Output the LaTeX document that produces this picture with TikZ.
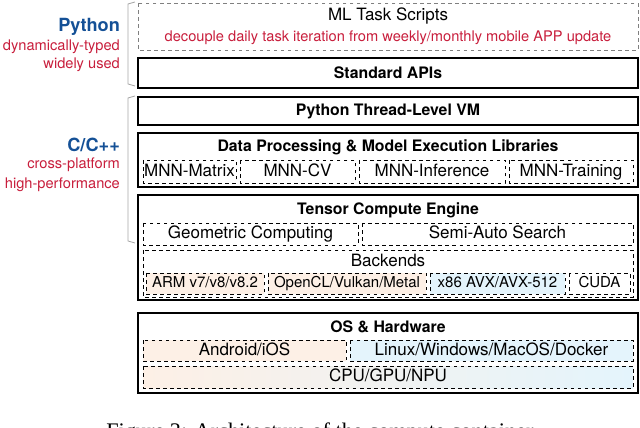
\documentclass[tikz,border=0pt]{standalone}
\usepackage{fontspec}
\setmainfont{TeX Gyre Heros}
\newfontfamily\capfont{Liberation Serif}
\begin{document}
\begin{tikzpicture}[x=0.03cm,y=-0.03cm,
 outer/.style={draw=black,line width=1.3pt},
 inner/.style={draw=black,dashed,line width=0.6pt},
 ttl/.style={font=\bfseries\fontsize{13.5}{15}\selectfont},
 txt/.style={font=\fontsize{14.5}{16}\selectfont,inner sep=0pt,text height=10.5pt,text depth=2.5pt},
 bk/.style={font=\fontsize{12.8}{14}\selectfont,inner sep=0pt,text height=9.3pt,text depth=2.2pt},
 side/.style={anchor=east,text=sred,font=\fontsize{12.5}{14}\selectfont},
 lang/.style={anchor=east,text=sblue,font=\bfseries\fontsize{15.5}{17}\selectfont}]
\definecolor{orng}{RGB}{253,240,230}
\definecolor{lblue}{RGB}{228,244,252}
\definecolor{sred}{RGB}{200,30,60}
\definecolor{sblue}{RGB}{20,80,150}
\useasboundingbox (0,0) rectangle (640,428);
% Python layer
\draw[inner,draw=gray] (138,3) rectangle (638,50);
\node[txt] (ml) at (388,16) {ML Task Scripts};
\node[side,anchor=center] (mlsub) at (388,38) {decouple daily task iteration from weekly/monthly mobile APP update};
\draw[outer] (138,58) rectangle (638,88);
\node[ttl] (api) at (388,73) {Standard APIs};
% C layer
\draw[outer] (138,97) rectangle (638,125);
\node[ttl] (vm) at (388,111) {Python Thread-Level VM};
\draw[outer] (138,133) rectangle (638,187);
\node[ttl] (dp) at (388,147) {Data Processing \& Model Execution Libraries};
\foreach \a/\b/\t in {143/236/MNN-Matrix,240/355/MNN-CV,359/505/MNN-Inference,509/633/MNN-Training}
  \draw[inner] (\a,160) rectangle node[txt]{\t} (\b,183);
\draw[outer] (138,195) rectangle (638,300);
\node[ttl] (tce) at (388,210) {Tensor Compute Engine};
\draw[inner] (143,223) rectangle node[txt]{Geometric Computing} (358,245);
\draw[inner] (362,223) rectangle node[txt]{Semi-Auto Search} (633,245);
\draw[inner] (143,250) rectangle (633,297);
\node[txt] (bkd) at (388,262) {Backends};
\draw[inner,fill=orng] (146,273) rectangle node[bk]{ARM v7/v8/v8.2} (264,294);
\draw[inner,fill=orng] (268,273) rectangle node[bk]{OpenCL/Vulkan/Metal} (426,294);
\draw[inner,fill=lblue] (430,273) rectangle node[bk]{x86 AVX/AVX-512} (565,294);
\draw[inner] (569,273) rectangle node[bk]{CUDA} (630,294);
% OS
\draw[outer] (138,313) rectangle (638,393);
\node[ttl] (os) at (388,327) {OS \& Hardware};
\draw[inner,fill=orng] (143,340) rectangle node[txt]{Android/iOS} (346,361);
\draw[inner,fill=lblue] (350,340) rectangle node[txt]{Linux/Windows/MacOS/Docker} (633,361);
\draw[inner,left color=orng,right color=lblue] (143,366) rectangle node[txt]{CPU/GPU/NPU} (633,388);
% side labels
\node[lang] (py) at (124,27) {Python};
\node[side] (py1) at (124,47) {dynamically-typed};
\node[side] (py2) at (124,65) {widely used};
\node[lang] (cc) at (124,145) {C/C++};
\node[side] (cc1) at (124,165) {cross-platform};
\node[side] (cc2) at (124,185) {high-performance};
\draw[gray!70,line width=0.7pt] (135,2) -- (128,4) -- (128,84) -- (135,86);
\draw[gray!70,line width=0.7pt] (135,96) -- (128,98) -- (128,241) -- (135,243);
\node[font=\capfont\fontsize{19}{22}\selectfont,anchor=north,inner sep=0pt] (cap) at (322,423) {Figure 3: Architecture of the compute container.};
\end{tikzpicture}
\end{document}
